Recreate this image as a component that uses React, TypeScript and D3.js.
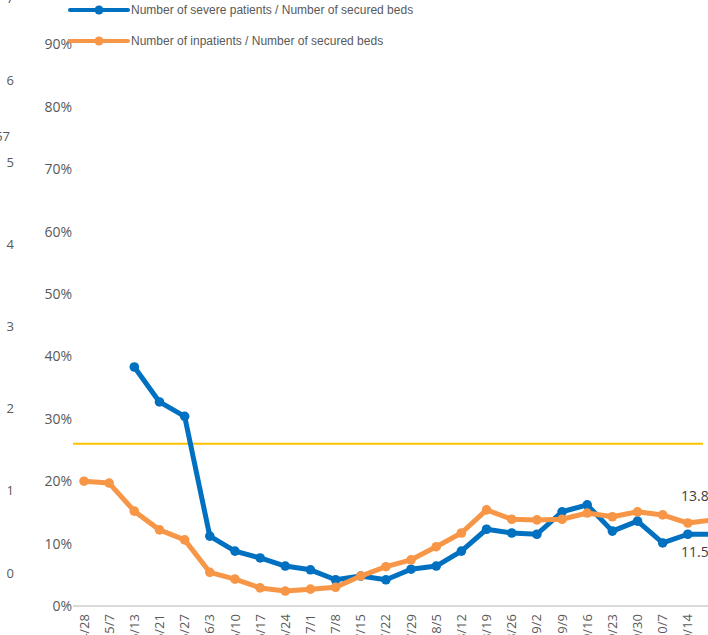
import React from 'react';
import * as d3 from 'd3';

const DATES = ['4/28', '5/7', '5/13', '5/21', '5/27', '6/3', '6/10', '6/17', '6/24', '7/1', '7/8', '7/15', '7/22',
  '7/29', '8/5', '8/12', '8/19', '8/26', '9/2', '9/9', '9/16', '9/23', '9/30', '10/7', '10/14', '10/21'];

// % values, null = no data
const SEVERE = [null, null, 38.3, 32.7, 30.4, 11.2, 8.8, 7.7, 6.4, 5.8, 4.2, 4.8, 4.2, 5.9, 6.4, 8.8, 12.3, 11.7,
  11.5, 15.1, 16.2, 12.0, 13.6, 10.1, 11.5, 11.5];
const INPATIENTS = [20.0, 19.7, 15.2, 12.2, 10.6, 5.4, 4.3, 2.9, 2.4, 2.7, 3.0, 4.8, 6.3, 7.4, 9.5, 11.7, 15.4, 13.9,
  13.8, 13.9, 14.9, 14.3, 15.1, 14.6, 13.3, 13.8];

const PCT_TICKS = [0, 10, 20, 30, 40, 50, 60, 70, 80, 90];
const SECOND_TICKS = [0, 1, 2, 3, 4, 5, 6, 7];
const THRESHOLD = 26;

const SERIES = [
  { name: 'Number of severe patients / Number of secured beds', values: SEVERE, color: '#0070C0' },
  { name: 'Number of inpatients / Number of secured beds', values: INPATIENTS, color: '#F79646' },
];

const W = 708;
const H = 635;
const TXT = '#595959';

export default function App() {
  const x = d3.scalePoint<string>().domain(DATES).range([84, 713]);
  const y = d3.scaleLinear().domain([0, 100]).range([606, -18]);
  const y2 = d3.scaleLinear().domain([0, 7]).range([573, -2]);

  const line = d3.line<number | null>()
    .defined(d => d != null)
    .x((_, i) => x(DATES[i]) as number)
    .y(d => y(d as number));

  const lastX = x(DATES[DATES.length - 1]) as number;

  return (
    <svg width={W} height={H} style={{ position: 'absolute', left: 0, top: 0, background: '#fff' }}
      fontFamily="'Open Sans', sans-serif">
      {/* secondary axis, mostly cut off */}
      {SECOND_TICKS.map(t => (
        <text key={'s' + t} x={14} y={y2(t)} dy="0.35em" textAnchor="end" fontSize={13} fill={TXT}>{t}</text>
      ))}
      <text x={10} y={136} dy="0.35em" textAnchor="end" fontSize={13} fill={TXT}>1.57</text>

      {PCT_TICKS.map(t => (
        <text key={'p' + t} x={72} y={y(t)} dy="0.35em" textAnchor="end" fontSize={14} fill={TXT}>{t}%</text>
      ))}

      <line x1={73} x2={W} y1={y(0)} y2={y(0)} stroke="#D9D9D9" strokeWidth={2} />

      {DATES.map(d => (
        <text key={d} transform={`translate(${x(d)},614) rotate(-90)`} dy="0.35em" textAnchor="end"
          fontSize={13} fill={TXT}>{d}</text>
      ))}

      <line x1={73} x2={703} y1={y(THRESHOLD)} y2={y(THRESHOLD)} stroke="#FFC000" strokeWidth={2} />

      {SERIES.map(s => (
        <g key={s.name}>
          <path d={line(s.values) || ''} fill="none" stroke={s.color} strokeWidth={5} strokeLinejoin="round" />
          {s.values.map((v, i) => v == null ? null : (
            <circle key={i} cx={x(DATES[i])} cy={y(v)} r={4.8} fill={s.color} />
          ))}
        </g>
      ))}

      <text x={lastX - 32} y={496} dy="0.35em" fontSize={14} fill="#404040">{INPATIENTS[INPATIENTS.length - 1].toFixed(1)}%</text>
      <text x={lastX - 32} y={552} dy="0.35em" fontSize={14} fill="#404040">{(SEVERE[SEVERE.length - 1] as number).toFixed(1)}%</text>

      {SERIES.map((s, i) => (
        <g key={'lg' + i} transform={`translate(70,${10 + i * 31})`}>
          <line x1={0} x2={58} y1={0} y2={0} stroke={s.color} strokeWidth={4} strokeLinecap="round" />
          <circle cx={29} cy={0} r={4.5} fill={s.color} />
          <text x={61} y={0} dy="0.35em" fontSize={12} fill={TXT} fontFamily="'Liberation Sans', Arial, sans-serif">{s.name}</text>
        </g>
      ))}
    </svg>
  );
}
